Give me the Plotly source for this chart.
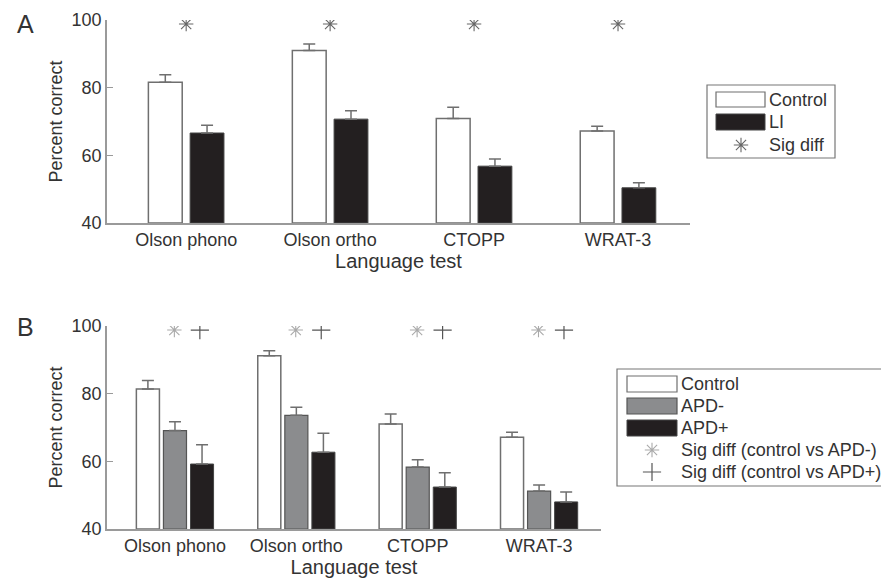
import plotly.graph_objects as go

W, H = 881, 578

categories = ["Olson phono", "Olson ortho", "CTOPP", "WRAT-3"]
xpos = [1, 2, 3, 4]

# Panel A
a_control = [81.6, 91.0, 70.9, 67.2]
a_control_err = [2.2, 1.9, 3.3, 1.4]
a_li = [66.6, 70.7, 56.8, 50.4]
a_li_err = [2.3, 2.5, 2.1, 1.5]
a_sig_y = [98.8, 98.8, 98.8, 98.8]

# Panel B
b_control = [81.4, 91.2, 71.0, 67.1]
b_control_err = [2.5, 1.5, 3.0, 1.5]
b_apdm = [69.1, 73.6, 58.3, 51.2]
b_apdm_err = [2.6, 2.4, 2.2, 1.8]
b_apdp = [59.2, 62.7, 52.4, 48.0]
b_apdp_err = [5.7, 5.6, 4.2, 2.9]
b_sig_apdm_y = [98.8, 98.8, 98.8, 98.8]
b_sig_apdp_y = [98.8, 98.8, 98.8, 98.8]

FONT = "Liberation Sans, Arial, sans-serif"
TXT = "#333333"
EDGE = "#6f6f6f"
BLACK = "#231f20"
GRAY = "#8b8c8e"
AXC = "#9a9a9a"
AST_A = "#666666"
AST_B = "#aaaaaa"
PLUS_B = "#555555"

def px_x(p):
    return p / W

def px_y(p):
    return 1 - p / H

fig = go.Figure()

def err(arr, color):
    return dict(type="data", symmetric=False, array=arr,
                arrayminus=[0] * len(arr), color=color, thickness=1.5, width=6)

# ---- Panel A bars
fig.add_trace(go.Bar(x=xpos, y=[v - 40 for v in a_control], base=40, name="Control",
                     width=0.235, offset=-0.2625,
                     marker=dict(color="white", line=dict(color=EDGE, width=1.5)),
                     error_y=err(a_control_err, EDGE), xaxis="x", yaxis="y", showlegend=False))
fig.add_trace(go.Bar(x=xpos, y=[v - 40 for v in a_li], base=40, name="LI",
                     width=0.235, offset=0.0275,
                     marker=dict(color=BLACK, line=dict(color="#444", width=1.0)),
                     error_y=err(a_li_err, EDGE), xaxis="x", yaxis="y", showlegend=False))
fig.add_trace(go.Scatter(x=xpos, y=a_sig_y, mode="markers", name="Sig diff",
                         marker=dict(symbol="asterisk-open", size=12, color=AST_A,
                                     line=dict(color=AST_A, width=1.1)),
                         xaxis="x", yaxis="y", showlegend=False))

# ---- Panel B bars
fig.add_trace(go.Bar(x=xpos, y=[v - 40 for v in b_control], base=40, name="Control",
                     width=0.19, offset=-0.318,
                     marker=dict(color="white", line=dict(color=EDGE, width=1.5)),
                     error_y=err(b_control_err, EDGE), xaxis="x2", yaxis="y2", showlegend=False))
fig.add_trace(go.Bar(x=xpos, y=[v - 40 for v in b_apdm], base=40, name="APD-",
                     width=0.19, offset=-0.095,
                     marker=dict(color=GRAY, line=dict(color="#555", width=1.2)),
                     error_y=err(b_apdm_err, EDGE), xaxis="x2", yaxis="y2", showlegend=False))
fig.add_trace(go.Bar(x=xpos, y=[v - 40 for v in b_apdp], base=40, name="APD+",
                     width=0.19, offset=0.128,
                     marker=dict(color=BLACK, line=dict(color="#444", width=1.0)),
                     error_y=err(b_apdp_err, EDGE), xaxis="x2", yaxis="y2", showlegend=False))
fig.add_trace(go.Scatter(x=[p - 0.005 for p in xpos], y=b_sig_apdm_y, mode="markers",
                         name="Sig diff (control vs APD-)",
                         marker=dict(symbol="asterisk-open", size=12, color=AST_B,
                                     line=dict(color=AST_B, width=1.1)),
                         xaxis="x2", yaxis="y2", showlegend=False))
fig.add_trace(go.Scatter(x=[p + 0.205 for p in xpos], y=b_sig_apdp_y, mode="markers",
                         name="Sig diff (control vs APD+)",
                         marker=dict(symbol="cross-thin-open", size=13, color=PLUS_B,
                                     line=dict(color=PLUS_B, width=1.2)),
                         xaxis="x2", yaxis="y2", showlegend=False))

# Legend key symbols on a hidden full-page axis (pixel coordinates)
fig.add_trace(go.Scatter(x=[741], y=[H - 145], mode="markers", showlegend=False, hoverinfo="skip",
                         marker=dict(symbol="asterisk-open", size=12, color=AST_A,
                                     line=dict(color=AST_A, width=1.1)),
                         xaxis="x3", yaxis="y3"))
fig.add_trace(go.Scatter(x=[652], y=[H - 450], mode="markers", showlegend=False, hoverinfo="skip",
                         marker=dict(symbol="asterisk-open", size=12, color=AST_B,
                                     line=dict(color=AST_B, width=1.1)),
                         xaxis="x3", yaxis="y3"))
fig.add_trace(go.Scatter(x=[652], y=[H - 472], mode="markers", showlegend=False, hoverinfo="skip",
                         marker=dict(symbol="cross-thin-open", size=13, color=PLUS_B,
                                     line=dict(color=PLUS_B, width=1.2)),
                         xaxis="x3", yaxis="y3"))

axis_common = dict(showgrid=False, zeroline=False, showline=True, linecolor=AXC,
                   linewidth=1.5, automargin=False,
                   tickfont=dict(family=FONT, size=18, color=TXT))

xtitle_font = dict(family=FONT, size=20, color=TXT)
ytitle_font = dict(family=FONT, size=18, color=TXT)

fig.update_layout(
    width=W, height=H, template="none",
    margin=dict(l=0, r=0, t=0, b=0),
    paper_bgcolor="white", plot_bgcolor="rgba(0,0,0,0)",
    font=dict(family=FONT, color=TXT),
    xaxis=dict(domain=[px_x(107), px_x(690)], range=[0.45, 4.5], anchor="y",
               tickvals=xpos, ticktext=categories, ticks="",
               title=dict(text="Language test", font=xtitle_font, standoff=3),
               **axis_common),
    yaxis=dict(domain=[px_y(223), px_y(20)], range=[40, 100], anchor="x",
               tickvals=[40, 60, 80, 100], ticks="inside", ticklen=6, tickcolor=AXC,
               title=dict(text="Percent correct", font=ytitle_font, standoff=4),
               **axis_common),
    xaxis2=dict(domain=[px_x(107), px_x(601)], range=[0.44, 4.51], anchor="y2",
                tickvals=xpos, ticktext=categories, ticks="",
                title=dict(text="Language test", font=xtitle_font, standoff=3),
                **axis_common),
    yaxis2=dict(domain=[px_y(529), px_y(326)], range=[40, 100], anchor="x2",
                tickvals=[40, 60, 80, 100], ticks="inside", ticklen=6, tickcolor=AXC,
                title=dict(text="Percent correct", font=ytitle_font, standoff=4),
                **axis_common),
    xaxis3=dict(domain=[0, 1], range=[0, W], visible=False, anchor="y3", fixedrange=True),
    yaxis3=dict(domain=[0, 1], range=[0, H], visible=False, anchor="x3", fixedrange=True),
)

shapes = []
annotations = []

# Panel letters
annotations.append(dict(text="A", x=px_x(25), y=px_y(24), xref="paper", yref="paper",
                        xanchor="center", yanchor="middle",
                        showarrow=False, font=dict(family=FONT, size=25, color=TXT)))
annotations.append(dict(text="B", x=px_x(25), y=px_y(327), xref="paper", yref="paper",
                        xanchor="center", yanchor="middle",
                        showarrow=False, font=dict(family=FONT, size=25, color=TXT)))

def rect(x0, y0, x1, y1, fill, line, lw=1.2):
    shapes.append(dict(type="rect", xref="paper", yref="paper", layer="below",
                       x0=px_x(x0), x1=px_x(x1), y0=px_y(y1), y1=px_y(y0),
                       fillcolor=fill, line=dict(color=line, width=lw)))

def label(text, x, y):
    annotations.append(dict(text=text, x=px_x(x), y=px_y(y), xref="paper", yref="paper",
                            xanchor="left", yanchor="middle", showarrow=False,
                            font=dict(family=FONT, size=18, color=TXT)))

# Legend A
rect(707, 85, 835, 158, "white", "#777777", 1.2)
rect(716, 92, 765, 107, "white", EDGE, 1.2)
rect(716, 114, 765, 130, BLACK, "#444", 1.0)
label("Control", 767, 100)
label("LI", 767, 122)
label("Sig diff", 767, 145)

# Legend B
rect(617, 369, 905, 486, "white", "#777777", 1.2)
rect(627, 376, 677, 392, "white", EDGE, 1.2)
rect(627, 398, 677, 414, GRAY, "#555", 1.2)
rect(627, 420, 677, 436, BLACK, "#444", 1.0)
label("Control", 679, 384)
label("APD-", 679, 406)
label("APD+", 679, 428)
label("Sig diff (control vs APD-)", 679, 450)
label("Sig diff (control vs APD+)", 679, 472)

fig.update_layout(shapes=shapes, annotations=annotations)

fig.write_html("out.html", config={"displayModeBar": False},
               post_script="document.body.style.margin='0';document.body.style.overflow='hidden';")
